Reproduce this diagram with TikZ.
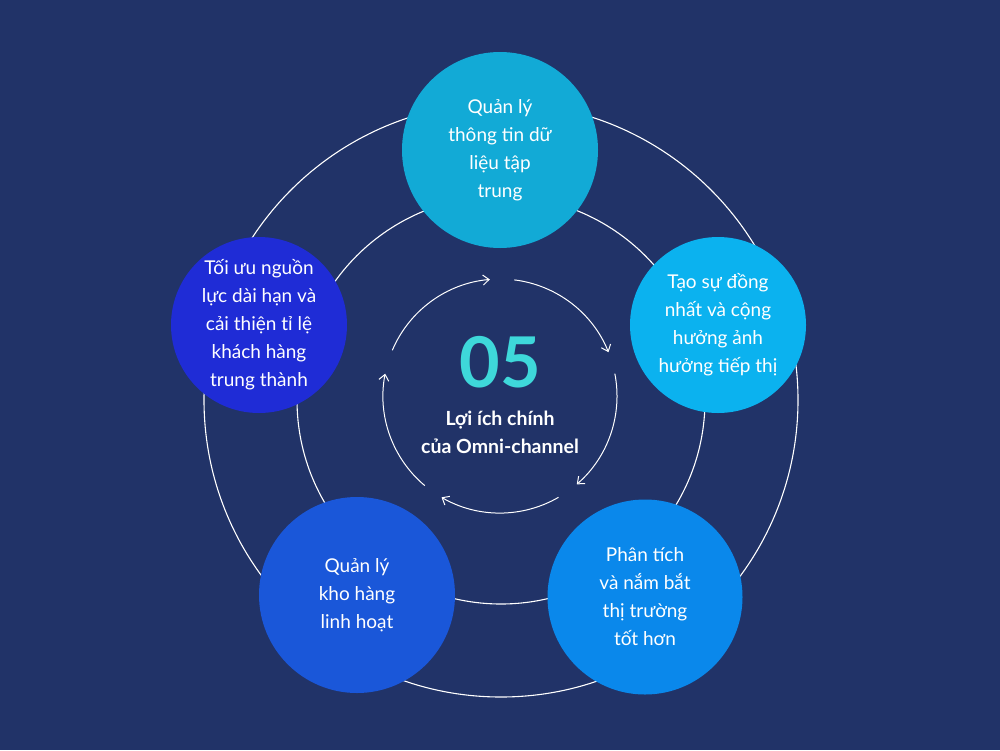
\documentclass[tikz,border=0pt]{standalone}
\usepackage{fontspec}
\setmainfont{Lato}
\usetikzlibrary{arrows.meta,calc}
\definecolor{bg}{HTML}{213368}
\definecolor{cA}{HTML}{12AAD6}
\definecolor{cB}{HTML}{0BB2EF}
\definecolor{cC}{HTML}{0A88EB}
\definecolor{cD}{HTML}{1A57D9}
\definecolor{cE}{HTML}{1F2CD6}
\definecolor{teal}{HTML}{3ED8DA}
\begin{document}
\begin{tikzpicture}[x=1pt,y=-1pt,
  ring/.style={draw=white,line width=1.1pt},
  bub/.style={circle,inner sep=0pt,text=white,align=center,font=\fontsize{19}{28}\selectfont},
  cyc/.style={draw=white,line width=1pt,-{Straight Barb[length=6pt,width=10pt]}}]
\fill[bg] (0,0) rectangle (1000,750);
\useasboundingbox (0,0) rectangle (1000,750);
\coordinate (c) at (501,400);
\draw[ring] (c) circle (297);
\draw[ring] (c) circle (204);
\coordinate (ci) at (500,396);
\foreach \a/\b in {157/95,83/22,11/-49,-60/-120,-130/-191}{
  \draw[cyc] ($(ci)+(\a:117 and -117)$) arc[start angle=\a,end angle=\b,x radius=117,y radius=-117];
}
\node[bub,fill=cA,minimum size=196pt] (n1) at (500,150) {Quản lý\\thông tin dữ\\liệu tập\\trung};
\node[bub,fill=cB,minimum size=176pt] (n2) at (718,325) {Tạo sự đồng\\nhất và cộng\\hưởng ảnh\\hưởng tiếp thị};
\node[bub,fill=cC,minimum size=195pt] (n3) at (645,597) {Phân tích\\và nắm bắt\\thị trường\\tốt hơn};
\node[bub,fill=cD,minimum size=196pt] (n4) at (357,595) {Quản lý\\kho hàng\\linh hoạt};
\node[bub,fill=cE,minimum size=176pt] (n5) at (259,325) {Tối ưu nguồn\\lực dài hạn và\\cải thiện tỉ lệ\\khách hàng\\trung thành};
\node[text=teal,font=\fontsize{70}{70}\selectfont\bfseries] (num) at (500,362) {05};
\node[text=white,align=center,font=\fontsize{19.5}{28}\selectfont\bfseries] (lab) at (500,432) {Lợi ích chính\\của Omni-channel};
\end{tikzpicture}
\end{document}
